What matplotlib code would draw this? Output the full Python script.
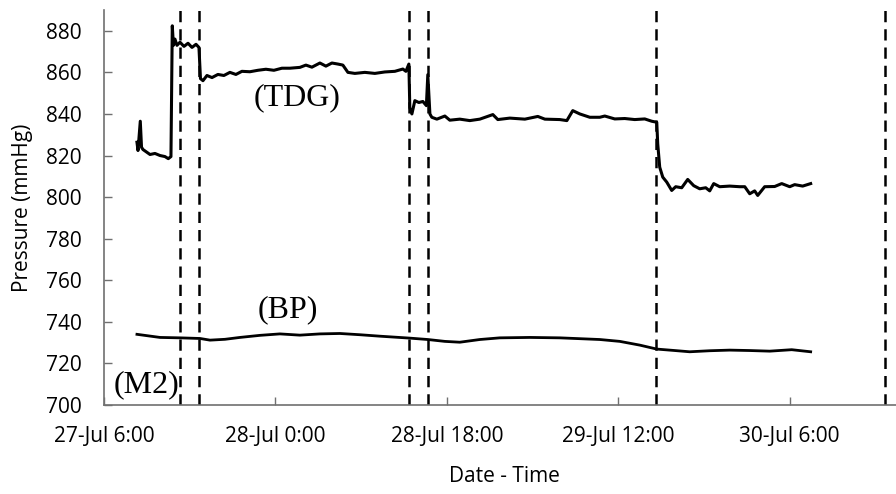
import matplotlib
matplotlib.use("Agg")
import matplotlib.pyplot as plt
import pandas as pd

# hours after 27-Jul 6:00
start = pd.Timestamp("2013-07-27 06:00")

tdg_hours = [3.46, 3.57, 3.81, 3.94, 4.09, 4.83, 5.35, 5.88, 6.40, 6.75, 7.03, 7.17, 7.29, 7.45,
             7.66, 7.98, 8.40, 8.82, 9.24, 9.66, 9.97, 10.13, 10.39, 10.81, 11.34, 11.96, 12.59,
             13.22, 13.85, 14.48, 15.32, 16.16, 17.00, 17.84, 18.68, 19.52, 20.57, 21.20, 21.83,
             22.67, 23.30, 23.93, 24.56, 25.08, 25.61, 26.34, 27.39, 28.44, 29.49, 30.54, 31.38,
             31.70, 32.01, 32.11, 32.33, 32.64, 33.06, 33.48, 33.85, 34.00, 34.22, 34.42, 34.95,
             35.79, 36.31, 37.36, 38.41, 39.46, 40.83, 41.35, 42.61, 44.19, 45.55, 46.29, 47.86,
             48.60, 49.22, 49.96, 51.01, 52.06, 52.58, 53.63, 54.68, 55.73, 56.78, 57.51, 58.04,
             58.14, 58.35, 58.67, 59.09, 59.61, 60.03, 60.66, 61.29, 61.92, 62.55, 63.18, 63.60,
             64.02, 64.65, 65.70, 66.75, 67.28, 67.80, 68.32, 68.64, 69.37, 70.42, 71.16, 72.00,
             72.52, 73.36, 74.20]
tdg_values = [826.4, 822.4, 836.5, 824.0, 822.9, 820.5, 821.0, 820.0, 819.5, 818.5, 819.5, 882.4,
              873.0, 876.0, 873.0, 874.5, 872.5, 874.0, 872.0, 873.5, 872.0, 857.0, 856.0, 858.5,
              857.5, 859.0, 858.5, 860.0, 859.0, 860.5, 860.3, 861.0, 861.5, 861.0, 862.0, 862.0,
              862.4, 863.5, 862.5, 864.5, 863.0, 864.5, 864.0, 863.5, 860.0, 859.5, 860.0, 859.5,
              860.2, 860.5, 861.6, 860.5, 864.0, 843.0, 840.0, 846.4, 845.5, 846.0, 844.0, 858.9,
              840.0, 838.4, 837.5, 839.0, 837.0, 837.5, 836.8, 837.5, 839.7, 837.3, 838.0, 837.5,
              838.8, 837.5, 837.3, 836.8, 841.6, 840.0, 838.4, 838.4, 839.0, 837.6, 837.8, 837.3,
              837.6, 836.5, 836.0, 825.7, 814.4, 809.6, 807.2, 803.2, 805.0, 804.5, 808.5, 805.5,
              804.0, 804.5, 803.0, 806.5, 805.0, 805.3, 805.0, 805.0, 801.6, 803.0, 800.8, 805.0,
              805.1, 806.5, 805.0, 806.0, 805.3, 806.5]

bp_hours = [3.46, 5.88, 7.98, 10.08, 11.13, 12.70, 14.27, 16.37, 18.47, 20.57, 22.67, 24.77,
            26.87, 28.97, 32.01, 34.00, 35.79, 37.36, 39.46, 41.56, 44.71, 47.86, 52.06, 54.16,
            56.26, 58.04, 59.93, 61.50, 63.60, 65.70, 67.80, 69.90, 72.21, 74.20]
bp_values = [734.0, 732.5, 732.3, 732.0, 731.2, 731.6, 732.5, 733.5, 734.2, 733.6, 734.2, 734.4,
             733.8, 733.1, 732.2, 731.5, 730.6, 730.2, 731.5, 732.3, 732.5, 732.3, 731.5, 730.6,
             728.8, 726.9, 726.2, 725.6, 726.1, 726.4, 726.2, 725.9, 726.6, 725.6]

event_times = ["2013-07-27 14:00", "2013-07-27 16:00", "2013-07-28 14:00",
               "2013-07-28 16:00", "2013-07-29 16:00", "2013-07-30 16:00"]

yticks = list(range(700, 881, 20))
xticks = ["2013-07-27 06:00", "2013-07-28 00:00", "2013-07-28 18:00",
          "2013-07-29 12:00", "2013-07-30 06:00"]

tdg_t = start + pd.to_timedelta(tdg_hours, unit="h")
bp_t = start + pd.to_timedelta(bp_hours, unit="h")

fig = plt.figure(figsize=(8.96, 4.94), dpi=100)
ax = fig.add_axes([104 / 896, 89 / 494, 800 / 896, 395 / 494])

ax.plot(tdg_t, tdg_values, color="black", lw=2.2)
ax.plot(bp_t, bp_values, color="black", lw=2.0)
for t in event_times:
    ax.axvline(pd.Timestamp(t), color="black", lw=1.8, ls=(0, (4.5, 2.8)))

ax.set_ylim(700, 890)
ax.set_xlim(start, pd.Timestamp("2013-07-30 18:00"))
ax.set_yticks(yticks)
xt = [pd.Timestamp(s) for s in xticks]
ax.set_xticks(xt)
ax.set_xticklabels([f"{d.day}-{d:%b} {d.hour}:{d:%M}" for d in xt])

tick_font = "Open Sans"
for lab in ax.get_xticklabels() + ax.get_yticklabels():
    lab.set_fontfamily(tick_font)
    lab.set_fontsize(15)
ax.tick_params(axis="both", direction="in", length=6, width=1, color="#707070")
ax.tick_params(axis="x", pad=15)
ax.tick_params(axis="y", pad=16)

for side in ("top", "right"):
    ax.spines[side].set_visible(False)
for side in ("left", "bottom"):
    ax.spines[side].set_color("#707070")
    ax.spines[side].set_linewidth(1.2)

ax.set_ylabel("Pressure (mmHg)", family=tick_font, fontsize=15)
ax.set_xlabel("Date - Time", family=tick_font, fontsize=15)
ax.yaxis.set_label_coords(-0.089, 0.5)
ax.xaxis.set_label_coords(0.5, -0.155)

serif = "Liberation Serif"
ax.text(pd.Timestamp("2013-07-28 02:16"), 848, "(TDG)", family=serif, fontsize=23,
        ha="center", va="center")
ax.text(pd.Timestamp("2013-07-28 01:20"), 745.7, "(BP)", family=serif, fontsize=23,
        ha="center", va="center")
ax.text(pd.Timestamp("2013-07-27 10:30"), 709.6, "(M2)", family=serif, fontsize=23,
        ha="center", va="center")

fig.savefig("out.png", dpi=100)
